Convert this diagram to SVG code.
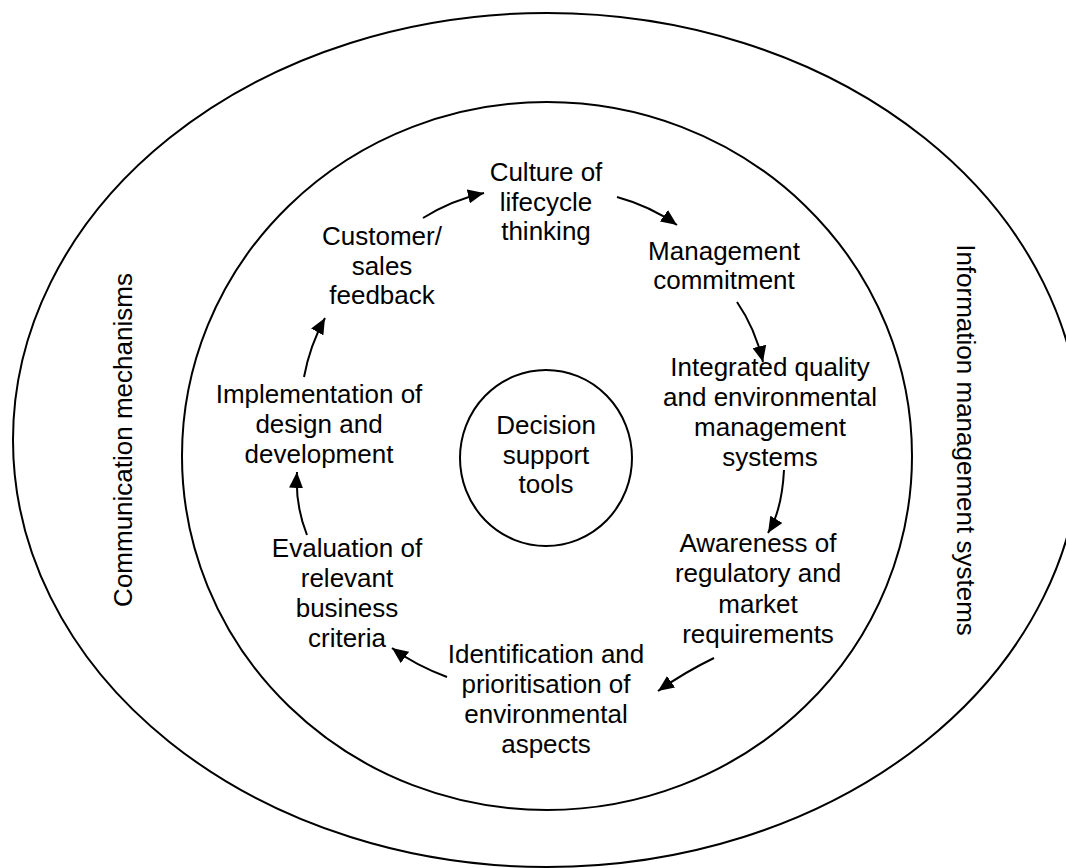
<svg xmlns="http://www.w3.org/2000/svg" width="1066" height="868" viewBox="0 0 1066 868">
  <style>
    .ring { fill: none; stroke: #000; stroke-width: 2; }
    .lbl { font-family: "Liberation Sans", Arial, sans-serif; font-size: 26px; fill: #000; text-anchor: middle; }
    .flow { fill: none; stroke: #000; stroke-width: 2; marker-end: url(#head); }
  </style>
  <defs>
    <marker id="head" markerUnits="userSpaceOnUse" markerWidth="18" markerHeight="14" refX="16" refY="7" orient="auto">
      <path d="M0,0 L16,7 L0,14 Z" fill="#000"/>
    </marker>
  </defs>
  <rect width="1066" height="868" fill="#fff"/>

  <!-- outer ring -->
  <g id="outer">
    <ellipse class="ring" cx="547" cy="440" rx="534" ry="427"/>
    <text class="lbl" transform="translate(132,440) rotate(-90)">Communication mechanisms</text>
    <text class="lbl" transform="translate(957,440) rotate(90)">Information management systems</text>
  </g>

  <!-- inner ring -->
  <g id="inner">
    <ellipse class="ring" cx="547" cy="456" rx="365" ry="354"/>
  </g>

  <!-- hub -->
  <g id="hub">
    <ellipse class="ring" cx="546" cy="458" rx="86" ry="88"/>
    <text class="lbl" x="546" y="434">Decision</text>
    <text class="lbl" x="546" y="464">support</text>
    <text class="lbl" x="546" y="493">tools</text>
  </g>

  <g id="culture">
    <text class="lbl" x="546" y="181">Culture of</text>
    <text class="lbl" x="546" y="211">lifecycle</text>
    <text class="lbl" x="546" y="240">thinking</text>
  </g>

  <g id="management">
    <text class="lbl" x="724" y="260">Management</text>
    <text class="lbl" x="724" y="289">commitment</text>
  </g>

  <g id="integrated">
    <text class="lbl" x="770" y="376">Integrated quality</text>
    <text class="lbl" x="770" y="406">and environmental</text>
    <text class="lbl" x="770" y="436">management</text>
    <text class="lbl" x="770" y="466">systems</text>
  </g>

  <g id="awareness">
    <text class="lbl" x="758" y="552">Awareness of</text>
    <text class="lbl" x="758" y="582">regulatory and</text>
    <text class="lbl" x="758" y="613">market</text>
    <text class="lbl" x="758" y="643">requirements</text>
  </g>

  <g id="identification">
    <text class="lbl" x="546" y="663">Identification and</text>
    <text class="lbl" x="546" y="693">prioritisation of</text>
    <text class="lbl" x="546" y="723">environmental</text>
    <text class="lbl" x="546" y="753">aspects</text>
  </g>

  <g id="evaluation">
    <text class="lbl" x="347" y="557">Evaluation of</text>
    <text class="lbl" x="347" y="587">relevant</text>
    <text class="lbl" x="347" y="617">business</text>
    <text class="lbl" x="347" y="647">criteria</text>
  </g>

  <g id="implementation">
    <text class="lbl" x="319" y="403">Implementation of</text>
    <text class="lbl" x="319" y="433">design and</text>
    <text class="lbl" x="319" y="463">development</text>
  </g>

  <g id="customer">
    <text class="lbl" x="382" y="245">Customer/</text>
    <text class="lbl" x="382" y="275">sales</text>
    <text class="lbl" x="382" y="304">feedback</text>
  </g>

  <!-- cycle connectors -->
  <g id="connectors">
    <path class="flow" d="M423,218 Q452,200 484,193"/>
    <path class="flow" d="M617,197 Q650,206 677,225"/>
    <path class="flow" d="M737,302 Q755,328 763,362"/>
    <path class="flow" d="M784,470 Q782,510 768,533"/>
    <path class="flow" d="M714,658 Q685,672 658,691"/>
    <path class="flow" d="M447,677 Q415,665 392,648"/>
    <path class="flow" d="M307,535 Q295,505 297,472"/>
    <path class="flow" d="M304,377 Q310,345 325,318"/>
  </g>
</svg>
